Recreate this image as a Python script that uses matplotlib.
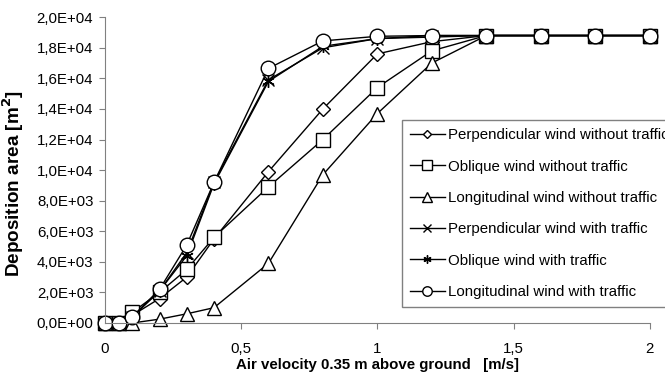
import matplotlib
matplotlib.use('Agg')
import matplotlib.pyplot as plt
from matplotlib.ticker import FuncFormatter

# Скорость воздуха (м/с) и площадь осаждения (м2) для шести случаев
velocity = [0, 0.05, 0.1, 0.2, 0.3, 0.4, 0.6, 0.8, 1.0, 1.2, 1.4, 1.6, 1.8, 2.0]

perp_no_traffic = [0, 0, 500, 1600, 3000, 5500, 9900, 14000, 17600, 18400, 18800, 18800, 18800, 18800]
obl_no_traffic = [0, 0, 700, 2000, 3500, 5600, 8900, 12000, 15400, 17800, 18800, 18800, 18800, 18800]
long_no_traffic = [0, 0, 0, 250, 600, 1000, 3900, 9700, 13700, 17000, 18800, 18800, 18800, 18800]
perp_traffic = [0, 0, 400, 2100, 4600, 9200, 15900, 18000, 18600, 18800, 18800, 18800, 18800, 18800]
obl_traffic = [0, 0, 400, 2100, 4400, 9100, 15800, 18100, 18600, 18700, 18800, 18800, 18800, 18800]
long_traffic = [0, 0, 400, 2200, 5100, 9200, 16650, 18450, 18750, 18800, 18800, 18800, 18800, 18800]

labels = ['Perpendicular wind without traffic',
          'Oblique wind without traffic',
          'Longitudinal wind without traffic',
          'Perpendicular wind with traffic',
          'Oblique wind with traffic',
          'Longitudinal wind with traffic']

plt.rcParams['font.family'] = ['Liberation Sans', 'DejaVu Sans']

fig = plt.figure(figsize=(6.65, 3.82), dpi=100)
ax = fig.add_axes([0.158, 0.1545, 0.819, 0.8005])

series = [perp_no_traffic, obl_no_traffic, long_no_traffic,
          perp_traffic, obl_traffic, long_traffic]
markers = ['D', 's', '^', 'x', (6, 2, 0), 'o']
sizes = [7, 10, 10, 8, 9, 10.5]

for values, label, m, ms in zip(series, labels, markers, sizes):
    ax.plot(velocity, values, color='black', linewidth=1.0, marker=m,
            markersize=ms, markerfacecolor='white', markeredgecolor='black',
            markeredgewidth=1.0, label=label, clip_on=False)

ax.set_xlim(0, 2)
ax.set_ylim(0, 20000)
ax.set_xticks([0, 0.5, 1, 1.5, 2])
ax.set_yticks(range(0, 20001, 2000))
ax.xaxis.set_major_formatter(FuncFormatter(lambda v, p: f'{v:g}'.replace('.', ',')))
ax.yaxis.set_major_formatter(FuncFormatter(lambda v, p: f'{v:.1E}'.replace('.', ',')))

for side in ['top', 'right']:
    ax.spines[side].set_visible(False)
for side in ['left', 'bottom']:
    ax.spines[side].set_color('#808080')
ax.tick_params(colors='#808080', labelcolor='black', labelsize=10.8, length=4)
ax.tick_params(axis='x', pad=10)
ax.tick_params(axis='y', pad=4.5)

ax.set_xlabel('Air velocity 0.35 m above ground   [m/s]', fontweight='bold',
              fontsize=10.8, labelpad=1)
ax.set_ylabel('Deposition area [m$^\\mathbf{2}$]', fontweight='bold', fontsize=13.6)
ax.yaxis.set_label_coords(-0.145, 0.457)

# легенда частично выходит за правый край, как в оригинале
leg = ax.legend(loc='lower left', bbox_to_anchor=(0.545, 0.052), fontsize=10.8,
                frameon=True, fancybox=False, framealpha=1, edgecolor='#808080',
                labelspacing=1.16, handlelength=2.33, handletextpad=0.2,
                markerscale=0.65, borderpad=0.53, borderaxespad=0)
leg.get_frame().set_linewidth(1.0)

fig.savefig('out.png', dpi=100)
